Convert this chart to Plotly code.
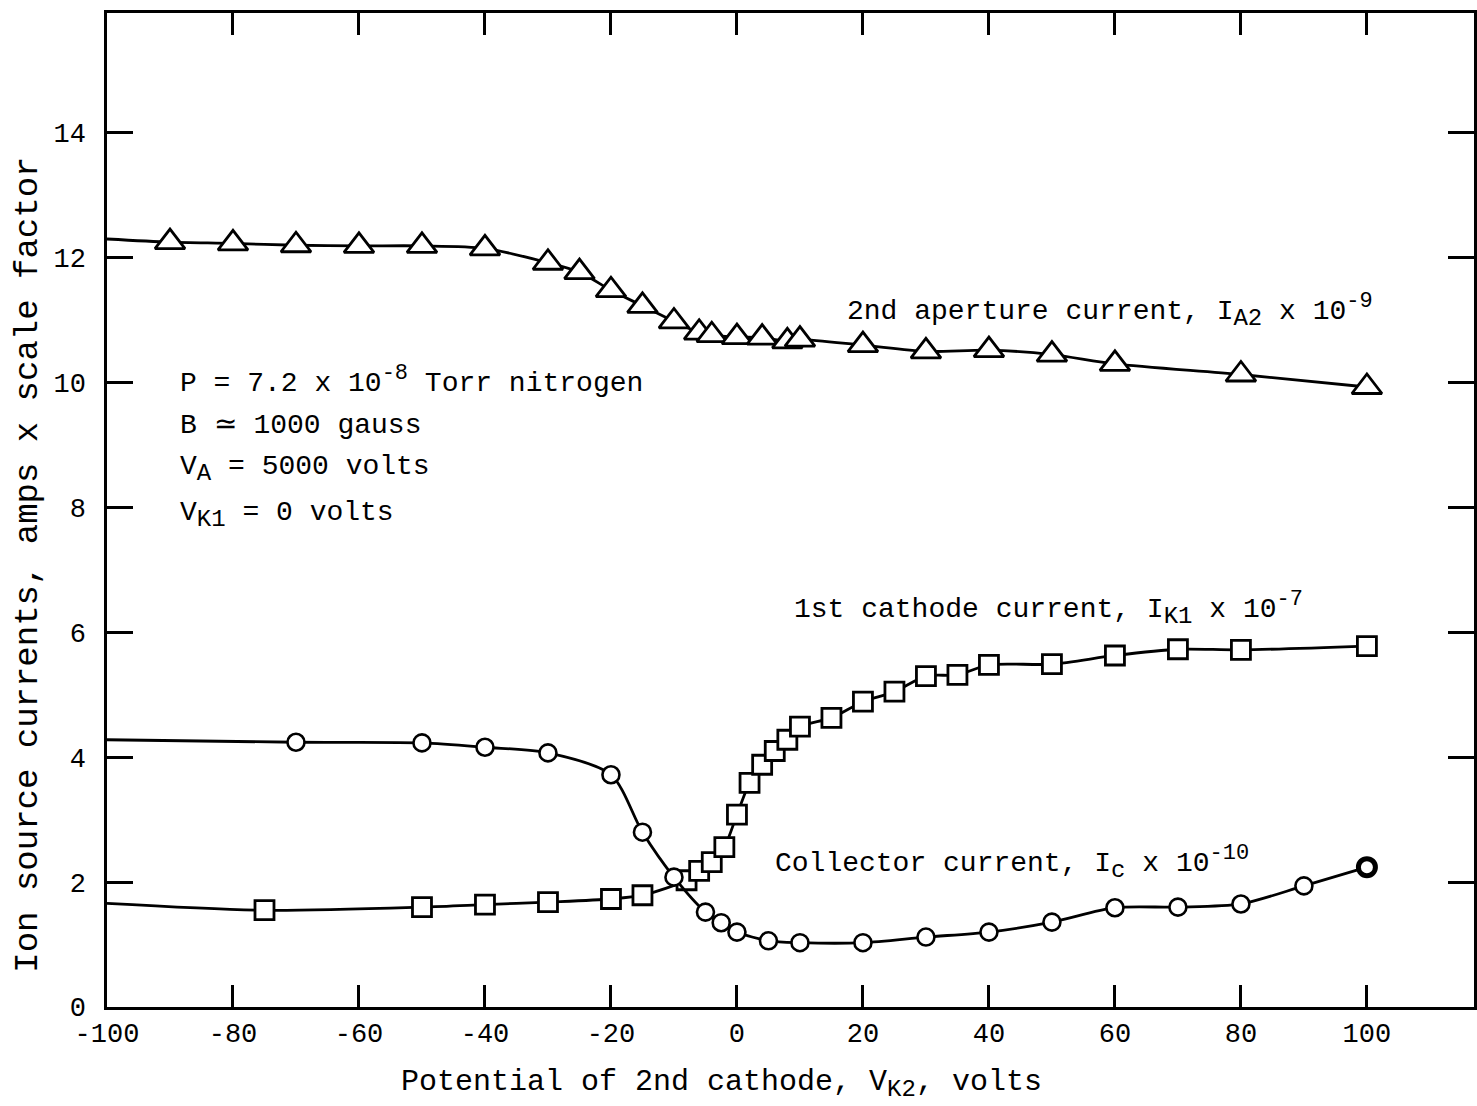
import plotly.graph_objects as go

# ---- data ----
# 2nd aperture current, I_A2 x 1e-9 (triangles)
ia2_x = [-90, -80, -70, -60, -50, -40, -30, -25, -20, -15, -10, -6, -4, 0, 4, 8, 10, 20, 30, 40, 50, 60, 80, 100]
ia2_y = [12.25, 12.23, 12.20, 12.19, 12.19, 12.15, 11.92, 11.77, 11.48, 11.23, 10.98, 10.80, 10.76, 10.73, 10.72, 10.66, 10.69, 10.60, 10.50, 10.52, 10.45, 10.30, 10.13, 9.93]
ia2_start = 12.30

# 1st cathode current, I_K1 x 1e-7 (squares)
ik1_x = [-75, -50, -40, -30, -20, -15, -8, -6, -4, -2, 0, 2, 4, 6, 8, 10, 15, 20, 25, 30, 35, 40, 50, 60, 70, 80, 100]
ik1_y = [1.55, 1.60, 1.64, 1.68, 1.73, 1.79, 2.03, 2.18, 2.32, 2.56, 3.08, 3.59, 3.88, 4.10, 4.28, 4.49, 4.63, 4.89, 5.05, 5.30, 5.32, 5.48, 5.49, 5.63, 5.73, 5.72, 5.78]
ik1_start = 1.66

# Collector current, I_c x 1e-10 (circles)
ic_x = [-70, -50, -40, -30, -20, -15, -10, -5, -2.5, 0, 5, 10, 20, 30, 40, 50, 60, 70, 80, 90, 100]
ic_y = [4.24, 4.23, 4.16, 4.07, 3.72, 2.80, 2.08, 1.52, 1.35, 1.20, 1.06, 1.03, 1.03, 1.12, 1.20, 1.36, 1.59, 1.60, 1.65, 1.94, 2.24]
ic_start = 4.28

x_start = -100
x_ticks = [-100, -80, -60, -40, -20, 0, 20, 40, 60, 80, 100]
y_ticks = [0, 2, 4, 6, 8, 10, 12, 14]

FONT = "Liberation Mono"
W, H = 1477, 1106

fig = go.Figure()

def add_series(xs, ys, start, symbol, size, lw_list=None):
    fig.add_trace(go.Scatter(
        x=[x_start] + xs, y=[start] + ys, mode="lines",
        line=dict(color="black", width=2.8, shape="spline", smoothing=0.8),
        hoverinfo="skip", showlegend=False))
    fig.add_trace(go.Scatter(
        x=xs, y=ys, mode="markers",
        marker=dict(symbol=symbol, size=size, color="white",
                    line=dict(color="black", width=lw_list if lw_list else 2.8)),
        showlegend=False))

add_series(ia2_x, ia2_y, ia2_start, "triangle-up", 26)
add_series(ik1_x, ik1_y, ik1_start, "square", 19)
add_series(ic_x, ic_y, ic_start, "circle", 17, [2.6] * (len(ic_x) - 1) + [5])

SUB = '<sub><span style="font-size:24px">{}</span></sub>'
SUP = '<sup><span style="font-size:22px">{}</span></sup>'

ann_font = dict(family=FONT, size=28, color="black")
texts = [
    (17.2, 11.16, "2nd aperture current, I" + SUB.format("A2") + " x 10" + SUP.format("-9")),
    (8.7, 6.39, "1st cathode current, I" + SUB.format("K1") + " x 10" + SUP.format("-7")),
    (5.8, 2.32, "Collector current, I" + SUB.format("c") + " x 10" + SUP.format("-10")),
    (-88.8, 10.04, "P = 7.2 x 10" + SUP.format("-8") + " Torr nitrogen"),
    (-88.8, 9.32, "B ≃ 1000 gauss"),
    (-88.8, 8.62, "V" + SUB.format("A") + " = 5000 volts"),
    (-88.8, 7.88, "V" + SUB.format("K1") + " = 0 volts"),
]
for x, y, t in texts:
    fig.add_annotation(x=x, y=y, xref="x", yref="y", text=t, showarrow=False,
                       xanchor="left", yanchor="middle", font=ann_font)

# axis titles
fig.add_annotation(x=0.4496, y=-0.0775, xref="paper", yref="paper",
                   text="Potential of 2nd cathode, V" + SUB.format("K2") + ", volts",
                   showarrow=False, xanchor="center", yanchor="middle",
                   font=dict(family=FONT, size=30, color="black"))
fig.add_annotation(x=-0.058, y=0.4447, xref="paper", yref="paper",
                   text="Ion source currents, amps x scale factor", textangle=-90,
                   showarrow=False, xanchor="center", yanchor="middle",
                   font=dict(family=FONT, size=34, color="black"))

axis_common = dict(showline=True, linecolor="black", linewidth=2.5, mirror="allticks",
                   ticks="inside", tickcolor="black", tickwidth=2.5, showgrid=False,
                   zeroline=False, tickfont=dict(family=FONT, size=27, color="black"))

fig.update_xaxes(range=[-100, 117.0], tickvals=x_ticks, ticktext=[str(v) for v in x_ticks],
                 ticklen=22, **axis_common)
fig.update_yaxes(range=[0, 15.92], tickvals=y_ticks, ticktext=[str(v) for v in y_ticks],
                 ticklen=26, ticklabelstandoff=13, **axis_common)

fig.update_layout(width=W, height=H, margin=dict(l=107, r=0, t=13, b=99),
                  paper_bgcolor="white", plot_bgcolor="white")

fig.write_html("out.html", config={"displayModeBar": False},
               post_script="document.body.style.margin='0';document.body.style.overflow='hidden';")
